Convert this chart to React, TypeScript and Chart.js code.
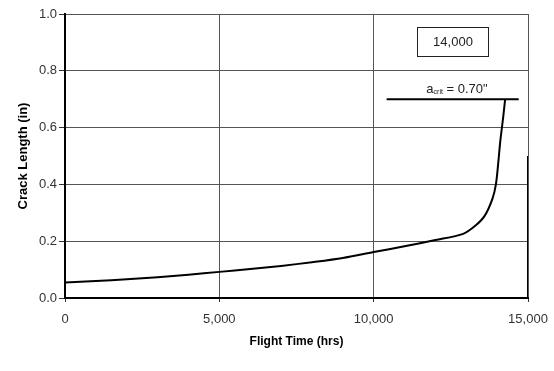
import React, { useEffect, useRef } from "react";
import { Chart, registerables } from "chart.js";
Chart.register(...registerables);

const flightHours = [0, 1000, 2000, 3000, 4000, 5000, 6000, 7000, 8000, 9000, 10000, 11000, 12000, 12900, 13300, 13600, 13850, 13960, 14040, 14100, 14200, 14260];
const crackLength = [0.055, 0.060, 0.066, 0.073, 0.082, 0.092, 0.102, 0.113, 0.126, 0.141, 0.162, 0.182, 0.204, 0.226, 0.255, 0.29, 0.35, 0.40, 0.48, 0.55, 0.64, 0.70];
const critLineX = [10420, 14700];
const critValue = 0.70;
const edgeLineX = [15000, 15000];
const edgeLineY = [0, 0.5];
const xTicks = [0, 5000, 10000, 15000];
const boxLabel = "14,000";
const boxPos = [12570, 0.905];
const critLabelPos = [12700, 0.736];

const FONT = "'Liberation Sans', Arial, sans-serif";

const annot = {
  id: "annot",
  afterDatasetsDraw(chart: any) {
    const { ctx, scales } = chart;
    const xs = scales.x, ys = scales.y;
    ctx.save();
    const bx = xs.getPixelForValue(boxPos[0]);
    const by = ys.getPixelForValue(boxPos[1]);
    ctx.strokeStyle = "#222";
    ctx.lineWidth = 1;
    ctx.strokeRect(Math.round(bx - 36) + 0.5, Math.round(by - 14) + 0.5, 71, 29);
    ctx.fillStyle = "#222";
    ctx.font = `13px ${FONT}`;
    ctx.textAlign = "center";
    ctx.textBaseline = "middle";
    ctx.fillText(boxLabel, bx, by + 1);
    const lx = xs.getPixelForValue(critLabelPos[0]);
    const ly = ys.getPixelForValue(critLabelPos[1]);
    const main = " = 0.70\"";
    ctx.font = `13px ${FONT}`;
    const wa = ctx.measureText("a").width;
    const wm = ctx.measureText(main).width;
    ctx.font = `7px ${FONT}`;
    const ws = ctx.measureText("crit").width;
    const total = wa + ws + wm;
    const x0 = lx - total / 2;
    ctx.textAlign = "left";
    ctx.font = `13px ${FONT}`;
    ctx.fillText("a", x0, ly);
    ctx.font = `7px ${FONT}`;
    ctx.fillText("crit", x0 + wa, ly + 3);
    ctx.font = `13px ${FONT}`;
    ctx.fillText(main, x0 + wa + ws, ly);
    ctx.restore();
  },
};

export default function App() {
  const ref = useRef<HTMLCanvasElement>(null);
  useEffect(() => {
    const chart = new Chart(ref.current!, {
      type: "scatter",
      data: {
        datasets: [
          {
            data: flightHours.map((x, i) => ({ x, y: crackLength[i] })),
            showLine: true,
            borderColor: "#000",
            borderWidth: 2,
            pointRadius: 0,
            tension: 0.3,
          },
          {
            data: critLineX.map((x) => ({ x, y: critValue })),
            showLine: true,
            borderColor: "#000",
            borderWidth: 2,
            pointRadius: 0,
          },
          {
            data: edgeLineX.map((x, i) => ({ x, y: edgeLineY[i] })),
            showLine: true,
            borderColor: "#000",
            borderWidth: 2,
            pointRadius: 0,
          },
        ],
      },
      options: {
        animation: false,
        responsive: false,
        layout: { padding: { top: 14, right: 26, left: 16, bottom: 22 } },
        plugins: { legend: { display: false }, tooltip: { enabled: false } },
        scales: {
          x: {
            type: "linear",
            min: 0,
            max: 15000,
            afterBuildTicks: (s: any) => {
              s.ticks = xTicks.map((v) => ({ value: v }));
            },
            afterFit: (s: any) => {
              s.height = 51;
              s.paddingRight = 0;
              s.paddingLeft = 0;
            },
            ticks: {
              color: "#333",
              font: { family: FONT, size: 13 },
              padding: 10,
              maxRotation: 0,
              callback: (v: any) => Number(v).toLocaleString("en-US"),
            },
            grid: { color: "#555", lineWidth: 1, tickLength: 4, tickColor: "#333" },
            border: { color: "#000", width: 2 },
            title: {
              display: true,
              text: "Flight Time (hrs)",
              color: "#000",
              font: { family: FONT, size: 12, weight: "bold" },
              padding: { top: 0, bottom: 0 },
            },
          },
          y: {
            type: "linear",
            min: 0,
            max: 1,
            afterFit: (s: any) => {
              s.width = 49;
            },
            ticks: {
              stepSize: 0.2,
              color: "#333",
              font: { family: FONT, size: 13 },
              padding: 2,
              callback: (v: any) => Number(v).toFixed(1),
            },
            grid: { color: "#555", lineWidth: 1, tickLength: 6, tickColor: "#333" },
            border: { color: "#000", width: 2 },
            title: {
              display: true,
              text: "Crack Length (in)",
              color: "#000",
              font: { family: FONT, size: 13, weight: "bold" },
              padding: { top: 0, bottom: 0 },
            },
          },
        },
      },
      plugins: [annot],
    });
    return () => chart.destroy();
  }, []);
  return (
    <div style={{ position: "fixed", left: 0, top: 0, width: 554, height: 371, background: "#fff" }}>
      <canvas ref={ref} width={554} height={371} />
    </div>
  );
}
